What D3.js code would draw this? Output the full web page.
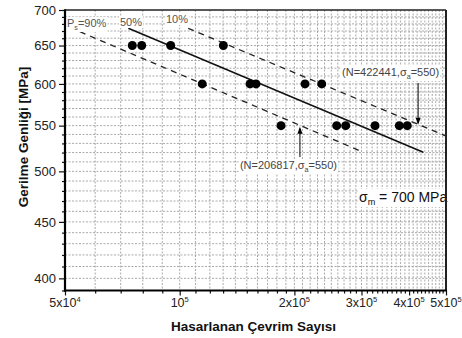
<!DOCTYPE html>
<html><head><meta charset="utf-8">
<script src="https://cdn.jsdelivr.net/npm/d3@7/dist/d3.min.js"></script>
<style>body{margin:0;background:#fff}svg{display:block;font-family:Arial,"Liberation Sans",sans-serif}</style>
</head><body><svg id="c" width="462" height="338"></svg>
<script>
// ---- data ----
const pointN = [75100, 79500, 94700, 130200, 114600, 153000, 158600, 213300, 235900, 184500, 258300, 272700, 325600, 377100, 395700];
const pointS = [650, 650, 650, 650, 600, 600, 600, 600, 600, 550, 550, 550, 550, 550, 550];
const line50N = [73300, 435800], line50S = [673.8, 520.3];
const line90N = [54700, 303300], line90S = [669.0, 520.3];
const line10N = [105300, 500000], line10S = [673.8, 538.2];
const yMajor = [400, 450, 500, 550, 600, 650, 700];
const xMajor = [5e4, 1e5, 2e5, 3e5, 4e5, 5e5];
const xMajorLabels = [["5x10","4"], ["10","5"], ["2x10","5"], ["3x10","5"], ["4x10","5"], ["5x10","5"]];
const annoN = [206817, 422441], annoS = [550, 550];

const svg = d3.select("#c");
const L = 65, R = 446, T = 10, B = 290.5;
const x = d3.scaleLog().domain([5e4, 5e5]).range([L, R]);
const y = d3.scaleLog().domain([390, 700]).range([B, T]);

// minor values
const xMinor = [];
for (let v = 6e4; v < 1e5; v += 1e4) xMinor.push(v);
for (let v = 1.1e5; v < 5e5; v += 1e4) if (!xMajor.some(m => Math.abs(m - v) < 1)) xMinor.push(v);
const yMinor = [];
for (let v = 390; v < 700; v += 10) if (!yMajor.includes(v)) yMinor.push(v);

// grid
const g = svg.append("g");
g.selectAll(".vg").data(xMinor.concat(xMajor.slice(1, -1))).enter().append("line")
  .attr("x1", d => x(d)).attr("x2", d => x(d)).attr("y1", T).attr("y2", B)
  .attr("stroke", "#a0a0a0").attr("stroke-width", 0.9).attr("stroke-dasharray", "2,1.5");
g.selectAll(".hg").data(yMinor.concat(yMajor).filter(v => v < 700)).enter().append("line")
  .attr("x1", L).attr("x2", R).attr("y1", d => y(d)).attr("y2", d => y(d))
  .attr("stroke", "#a0a0a0").attr("stroke-width", 0.9).attr("stroke-dasharray", "2,1.5");

// fit lines
const ln = d3.line().x(d => x(d[0])).y(d => y(d[1]));
svg.append("path").attr("d", ln(d3.zip(line50N, line50S))).attr("stroke", "#111").attr("stroke-width", 1.5).attr("fill", "none");
svg.append("path").attr("d", ln(d3.zip(line90N, line90S))).attr("stroke", "#222").attr("stroke-width", 1.3).attr("fill", "none").attr("stroke-dasharray", "6,5");
svg.append("path").attr("d", ln(d3.zip(line10N, line10S))).attr("stroke", "#222").attr("stroke-width", 1.3).attr("fill", "none").attr("stroke-dasharray", "6,5");

// points
svg.selectAll(".pt").data(d3.zip(pointN, pointS)).enter().append("circle")
  .attr("cx", d => x(d[0])).attr("cy", d => y(d[1])).attr("r", 4.5).attr("fill", "#000");

// text labels with white bg
function label(px, py, parts, size, color, anchor) {
  const t = svg.append("text").attr("x", px).attr("y", py).attr("font-size", size).attr("fill", color).attr("text-anchor", anchor || "start");
  parts.forEach(p => {
    const s = t.append("tspan").text(p[0]);
    if (p[1] === "sub") s.attr("font-size", size * 0.65).attr("dy", 3);
    if (p[1] === "back") s.attr("dy", -3);
  });
  const bb = t.node().getBBox();
  svg.insert("rect", () => t.node()).attr("x", bb.x - 1).attr("y", bb.y).attr("width", bb.width + 2).attr("height", bb.height).attr("fill", "#fff");
  return t;
}
label(67, 27, [["P"], ["s", "sub"], ["=90%", "back"]], 11, "#555");
label(120, 26, [["50%"]], 11, "#555");
label(166, 23, [["10%"]], 11, "#555");
label(x(annoN[0]) - 60, 169, [["(N=206817,σ"], ["a", "sub"], ["=550)", "back"]], 11, "#444");
label(x(annoN[1]) - 76, 76, [["(N=422441,σ"], ["a", "sub"], ["=550)", "back"]], 11, "#444");
label(359, 202, [["σ"], ["m", "sub"], [" = 700 MPa", "back"]], 14, "#111");

// arrows
const a1 = x(annoN[0]);
svg.append("line").attr("x1", a1).attr("x2", a1).attr("y1", 157).attr("y2", y(annoS[0]) + 3).attr("stroke", "#000").attr("stroke-width", 1);
svg.append("path").attr("d", `M${a1},${y(annoS[0]) + 1}l-2.5,7h5z`).attr("fill", "#000");
const a2 = x(annoN[1]);
svg.append("line").attr("x1", a2).attr("x2", a2).attr("y1", 83).attr("y2", y(annoS[1]) - 3).attr("stroke", "#000").attr("stroke-width", 1);
svg.append("path").attr("d", `M${a2},${y(annoS[1]) - 1}l-2.5,-7h5z`).attr("fill", "#000");

// frame
svg.append("line").attr("x1", L).attr("x2", R).attr("y1", T).attr("y2", T).attr("stroke", "#222").attr("stroke-width", 1.5);
svg.append("line").attr("x1", R).attr("x2", R).attr("y1", T).attr("y2", B).attr("stroke", "#222").attr("stroke-width", 2);

// axes
const yAx = svg.append("g").attr("transform", `translate(${L},0)`)
  .call(d3.axisLeft(y).tickValues(yMajor).tickFormat(d3.format("d")).tickSize(6).tickPadding(3));
const yAxM = svg.append("g").attr("transform", `translate(${L},0)`)
  .call(d3.axisLeft(y).tickValues(yMinor).tickFormat("").tickSize(3));
const xAx = svg.append("g").attr("transform", `translate(0,${B})`)
  .call(d3.axisBottom(x).tickValues(xMajor).tickFormat("").tickSize(5));
const xAxM = svg.append("g").attr("transform", `translate(0,${B})`)
  .call(d3.axisBottom(x).tickValues(xMinor).tickFormat("").tickSize(3));
[yAx, yAxM, xAx, xAxM].forEach(a => {
  a.select(".domain").remove();
  a.selectAll(".tick line").attr("stroke", "#111").attr("stroke-width", 1.2);
});
yAx.selectAll(".tick text").attr("font-size", 13).attr("fill", "#222").attr("font-family", "Arial,'Liberation Sans',sans-serif");
svg.append("line").attr("x1", L).attr("x2", L).attr("y1", T - 0.7).attr("y2", B + 1).attr("stroke", "#000").attr("stroke-width", 2.2);
svg.append("line").attr("x1", L - 1).attr("x2", R + 1).attr("y1", B).attr("y2", B).attr("stroke", "#000").attr("stroke-width", 2.2);

// x tick labels with superscripts
xMajor.forEach((v, i) => {
  const t = svg.append("text").attr("x", x(v)).attr("y", 307).attr("text-anchor", "middle").attr("font-size", 12.5).attr("fill", "#222");
  t.append("tspan").text(xMajorLabels[i][0]);
  t.append("tspan").text(xMajorLabels[i][1]).attr("font-size", 7.5).attr("dy", -5);
});

// axis titles
svg.append("text").attr("x", 253.5).attr("y", 331).attr("text-anchor", "middle").attr("font-size", 13.5).attr("font-weight", "bold").attr("fill", "#111").text("Hasarlanan Çevrim Sayısı");
svg.append("text").attr("transform", "translate(28,137) rotate(-90)").attr("text-anchor", "middle").attr("font-size", 13.5).attr("font-weight", "bold").attr("fill", "#111").text("Gerilme Genliği [MPa]");
</script></body></html>
